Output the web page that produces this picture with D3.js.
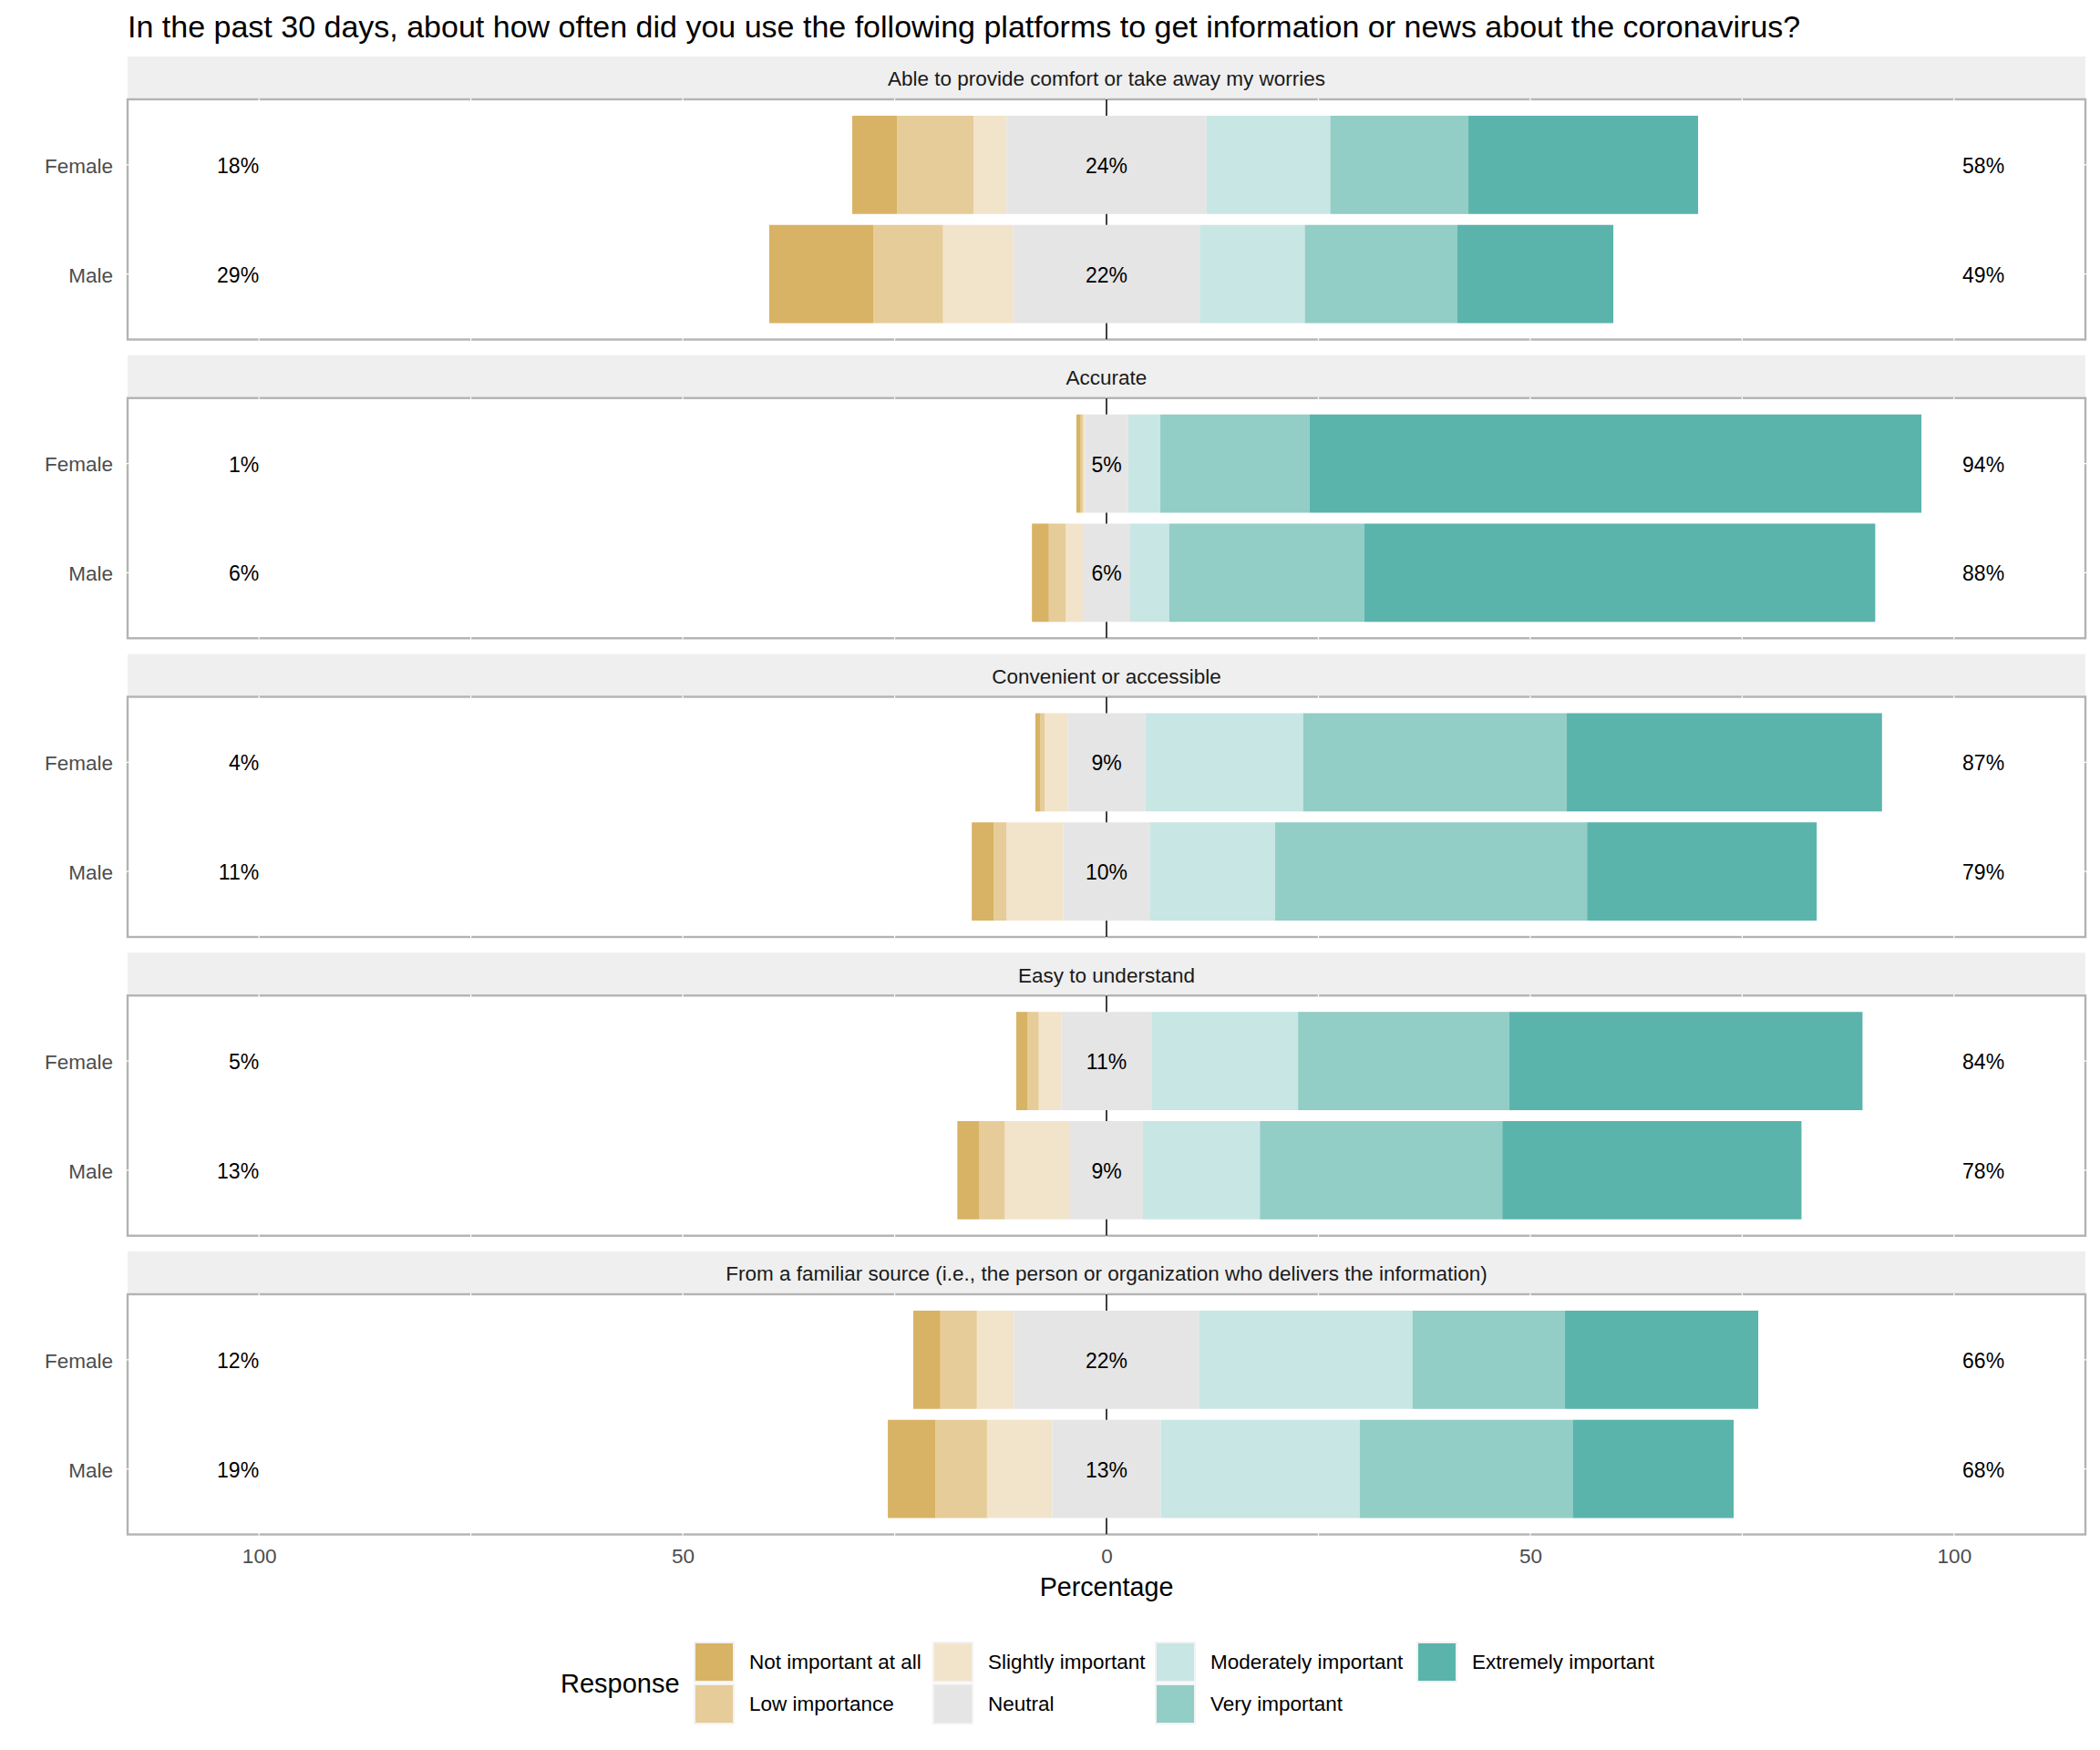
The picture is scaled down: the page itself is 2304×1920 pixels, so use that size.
<!DOCTYPE html>
<html>
<head>
<meta charset="utf-8">
<script src="https://cdn.jsdelivr.net/npm/d3@7"></script>
<style>
  body { margin: 0; background: #fff; }
  text { font-family: "Liberation Sans", Arial, sans-serif; }
</style>
</head>
<body>
<svg id="chart" width="2304" height="1920"></svg>
<script>
// question items (facets) and the two groups in each
const items = [
  "Able to provide comfort or take away my worries",
  "Accurate",
  "Convenient or accessible",
  "Easy to understand",
  "From a familiar source (i.e., the person or organization who delivers the information)"
];
const groups = ["Female", "Male"];

const levels = [
  "Not important at all", "Low importance", "Slightly important", "Neutral",
  "Moderately important", "Very important", "Extremely important"
];
const levelColors = ["#d8b365", "#e6cc98", "#f2e4cb", "#e5e5e5", "#c8e6e4", "#92cdc6", "#5ab4ac"];

// percentages, rows ordered item by item: Female, Male
const notImportant = [5.3, 12.3, 0.5, 2.0, 0.6, 2.6, 1.35, 2.6, 3.2, 5.6];
const lowImportance = [9.0, 8.2, 0.3, 2.0, 0.5, 1.5, 1.3, 3.0, 4.3, 6.1];
const slightlyImportant = [3.9, 8.3, 0.2, 2.0, 2.7, 6.7, 2.7, 7.7, 4.4, 7.7];
const neutral = [23.6, 22.0, 5.1, 5.6, 9.2, 10.2, 10.6, 8.6, 21.8, 12.8];
const moderatelyImportant = [14.6, 12.4, 3.8, 4.6, 18.6, 14.8, 17.3, 13.8, 25.2, 23.5];
const veryImportant = [16.3, 18.0, 17.6, 23.0, 31.1, 36.8, 24.9, 28.6, 18.0, 25.1];
const extremelyImportant = [27.1, 18.4, 72.2, 60.3, 37.2, 27.1, 41.7, 35.3, 22.8, 19.0];

const xTicks = [-100, -50, 0, 50, 100];
const gridTicks = [-100, -75, -50, -25, 0, 25, 50, 75, 100];

const series = [notImportant, lowImportance, slightlyImportant, neutral,
  moderatelyImportant, veryImportant, extremelyImportant];

// build rows with segment extents (neutral centred on zero)
let rows = [];
items.forEach((item, i) => {
  groups.forEach((g, j) => {
    let k = i * 2 + j;
    let vals = series.map(s => s[k]);
    let n = vals[3];
    let segs = [];
    let pos = -n / 2;
    for (let l = 2; l >= 0; l--) {
      segs.push({ level: l, x0: pos - vals[l], x1: pos });
      pos -= vals[l];
    }
    segs.push({ level: 3, x0: -n / 2, x1: n / 2 });
    pos = n / 2;
    for (let l = 4; l < 7; l++) {
      segs.push({ level: l, x0: pos, x1: pos + vals[l] });
      pos += vals[l];
    }
    rows.push({
      item: item, group: g, segs: segs,
      low: vals[0] + vals[1] + vals[2],
      neutral: n,
      high: vals[4] + vals[5] + vals[6]
    });
  });
});

const svg = d3.select("#chart");

const panelLeft = 140, panelRight = 2288;
const firstStripTop = 62, stripH = 47, panelH = 263.5, panelStep = 327.75;
const smallFont = 22.5;

const x = d3.scaleLinear().domain([-115.5, 115.5]).range([panelLeft, panelRight]);

// title
svg.append("text")
  .attr("x", 140)
  .attr("y", 41)
  .attr("font-size", 34)
  .attr("fill", "#000")
  .text("In the past 30 days, about how often did you use the following platforms to get information or news about the coronavirus?");

items.forEach((item, i) => {
  let stripTop = firstStripTop + i * panelStep;
  let top = stripTop + stripH;
  let g = svg.append("g");

  let y = d3.scalePoint().domain(groups).range([top, top + panelH]).padding(0.6);
  let barH = y.step() * 0.9;

  // strip
  g.append("rect")
    .attr("x", panelLeft).attr("y", stripTop)
    .attr("width", panelRight - panelLeft).attr("height", stripH)
    .attr("fill", "#efefef");
  g.append("text")
    .attr("x", (panelLeft + panelRight) / 2)
    .attr("y", stripTop + stripH / 2 + 1)
    .attr("dy", "0.35em")
    .attr("text-anchor", "middle")
    .attr("font-size", smallFont)
    .attr("fill", "#1a1a1a")
    .text(item);

  // panel background with grey border
  g.append("rect")
    .attr("x", panelLeft).attr("y", top)
    .attr("width", panelRight - panelLeft).attr("height", panelH)
    .attr("fill", "#fff")
    .attr("stroke", "#b3b3b3")
    .attr("stroke-width", 2.4);

  // white grid lines (only show as notches on the border)
  g.selectAll(".vgrid").data(gridTicks).enter().append("line")
    .attr("x1", d => x(d)).attr("x2", d => x(d))
    .attr("y1", top - 1.2).attr("y2", top + panelH + 1.2)
    .attr("stroke", "#fff").attr("stroke-width", 1.2);
  g.selectAll(".hgrid").data(groups).enter().append("line")
    .attr("x1", panelLeft - 1.2).attr("x2", panelRight + 1.2)
    .attr("y1", d => y(d)).attr("y2", d => y(d))
    .attr("stroke", "#fff").attr("stroke-width", 1.2);

  // zero line
  g.append("line")
    .attr("x1", x(0)).attr("x2", x(0))
    .attr("y1", top).attr("y2", top + panelH)
    .attr("stroke", "#000").attr("stroke-width", 1.5);

  let itemRows = rows.filter(r => r.item === item);

  itemRows.forEach(r => {
    g.selectAll(null).data(r.segs).enter().append("rect")
      .attr("x", d => x(d.x0))
      .attr("width", d => Math.max(0, x(d.x1) - x(d.x0)))
      .attr("y", y(r.group) - barH / 2)
      .attr("height", barH)
      .attr("fill", d => levelColors[d.level]);

    // percentage labels
    g.append("text")
      .attr("x", x(-100)).attr("y", y(r.group) + 1).attr("dy", "0.35em")
      .attr("text-anchor", "end").attr("font-size", 23).attr("fill", "#000")
      .text(Math.round(r.low) + "%");
    g.append("text")
      .attr("x", x(0)).attr("y", y(r.group) + 1).attr("dy", "0.35em")
      .attr("text-anchor", "middle").attr("font-size", 23).attr("fill", "#000")
      .text(Math.round(r.neutral) + "%");
    let hi = g.append("text")
      .attr("x", x(100)).attr("y", y(r.group) + 1).attr("dy", "0.35em")
      .attr("text-anchor", "start").attr("font-size", 23).attr("fill", "#000")
      .text(Math.round(r.high) + "%");
    hi.attr("x", x(100) + 0.2 * hi.node().getComputedTextLength());
  });

  // group labels on the left
  g.selectAll(".grp").data(groups).enter().append("text")
    .attr("x", 124)
    .attr("y", d => y(d) + 1)
    .attr("dy", "0.35em")
    .attr("text-anchor", "end")
    .attr("font-size", smallFont)
    .attr("fill", "#4d4d4d")
    .text(d => d);

  // x axis under the last panel
  if (i === items.length - 1) {
    let axis = svg.append("g")
      .attr("transform", `translate(0,${top + panelH})`)
      .call(d3.axisBottom(x).tickValues(xTicks).tickFormat(d => Math.abs(d)).tickSize(0).tickPadding(16));
    axis.select(".domain").remove();
    axis.selectAll("text")
      .attr("font-size", smallFont)
      .attr("fill", "#4d4d4d")
      .style("font-family", "'Liberation Sans', Arial, sans-serif");

    svg.append("text")
      .attr("x", x(0))
      .attr("y", top + panelH + 67)
      .attr("text-anchor", "middle")
      .attr("font-size", 28.7)
      .attr("fill", "#000")
      .text("Percentage");
  }
});

// legend: two rows, filled column by column
const legendColX = [762, 1024, 1268, 1555];
const legendRowY = [1802, 1848];
const keySize = 43;

svg.append("text")
  .attr("x", 615)
  .attr("y", (legendRowY[0] + legendRowY[1] + keySize) / 2)
  .attr("dy", "0.35em")
  .attr("font-size", 29)
  .attr("fill", "#000")
  .text("Response");

let legend = svg.selectAll(".key").data(levels).enter().append("g")
  .attr("transform", (d, k) => `translate(${legendColX[Math.floor(k / 2)]},${legendRowY[k % 2]})`);

legend.append("rect")
  .attr("width", keySize).attr("height", keySize)
  .attr("fill", (d, k) => levelColors[k])
  .attr("stroke", "#f2f2f2")
  .attr("stroke-width", 2);

legend.append("text")
  .attr("x", keySize + 17)
  .attr("y", keySize / 2)
  .attr("dy", "0.35em")
  .attr("font-size", smallFont)
  .attr("fill", "#000")
  .text(d => d);
</script>
</body>
</html>
